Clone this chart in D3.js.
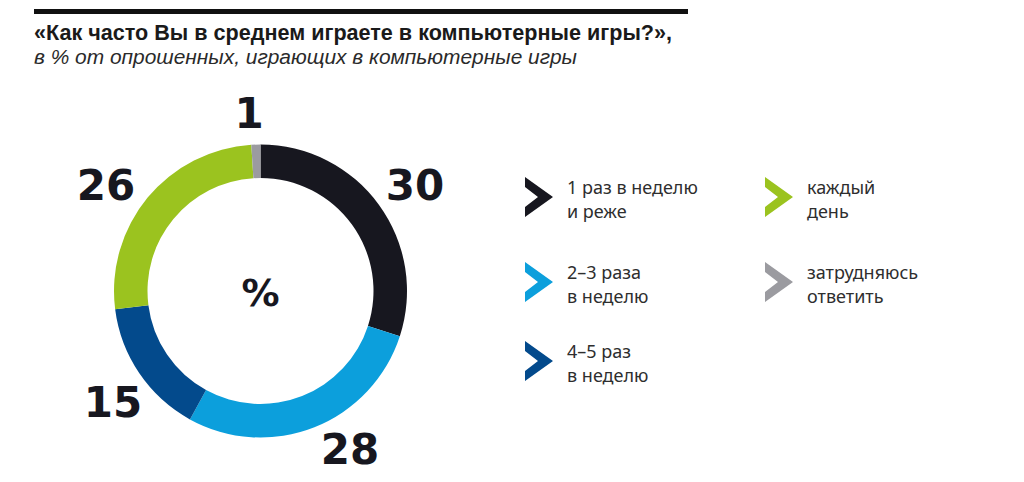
<!DOCTYPE html>
<html>
<head>
<meta charset="utf-8">
<script src="https://cdn.jsdelivr.net/npm/d3@7"></script>
<style>
    body { margin: 0; background: #fff; }
    svg { display: block; }
</style>
</head>
<body>
<svg id="chart" width="1024" height="482"></svg>
<script>
// data
const categories = ["1 раз в неделю и реже", "2–3 раза в неделю", "4–5 раз в неделю", "каждый день", "затрудняюсь ответить"];
const values = [30, 28, 15, 26, 1];
const colors = ["#17171f", "#0c9fdc", "#034a8c", "#9bc31f", "#9b9ba0"];
const legendLines = [
    ["1 раз в неделю", "и реже"],
    ["2–3 раза", "в неделю"],
    ["4–5 раз", "в неделю"],
    ["каждый", "день"],
    ["затрудняюсь", "ответить"]
];
const titleText = "«Как часто Вы в среднем играете в компьютерные игры?»,";
const subtitleText = "в % от опрошенных, играющих в компьютерные игры";

const svg = d3.select("#chart");

// header
svg.append("rect").attr("x", 34).attr("y", 9).attr("width", 654).attr("height", 5).attr("fill", "#111");
svg.append("text")
    .attr("x", 34).attr("y", 40)
    .attr("font-family", "'Liberation Sans Narrow', 'Liberation Sans', sans-serif")
    .attr("font-weight", "bold").attr("font-size", 22)
    .attr("textLength", 638).attr("lengthAdjust", "spacingAndGlyphs")
    .attr("fill", "#1a1a1a")
    .text(titleText);
svg.append("text")
    .attr("x", 34).attr("y", 64)
    .attr("font-family", "'Liberation Sans Narrow', 'Liberation Sans', sans-serif")
    .attr("font-style", "italic").attr("font-size", 20)
    .attr("textLength", 543).attr("lengthAdjust", "spacingAndGlyphs")
    .attr("fill", "#2a2a2a")
    .text(subtitleText);

// donut
const cx = 260.5, cy = 291, outerR = 146.5, innerR = 113;
const pie = d3.pie().sort(null).value(d => d)(values);
const arc = d3.arc().innerRadius(innerR).outerRadius(outerR);
const g = svg.append("g").attr("transform", `translate(${cx},${cy})`);

g.selectAll("path.slice")
    .data(pie)
    .join("path")
    .attr("class", "slice")
    .attr("d", arc)
    .attr("fill", (d, i) => colors[i]);

// value labels (page coords of each label centre)
const labelPos = [[415, 185], [350, 449], [113, 402], [106, 185], [249, 113]];
g.selectAll("text.val")
    .data(pie)
    .join("text")
    .attr("class", "val")
    .attr("x", (d, i) => labelPos[i][0] - cx)
    .attr("y", (d, i) => labelPos[i][1] - cy)
    .attr("text-anchor", "middle")
    .attr("dominant-baseline", "central")
    .attr("font-family", "'DejaVu Sans', sans-serif")
    .attr("font-weight", "bold")
    .attr("font-size", 42)
    .attr("fill", "#17171f")
    .text(d => d.data);

g.append("text")
    .attr("x", 0).attr("y", 2)
    .attr("text-anchor", "middle")
    .attr("dominant-baseline", "central")
    .attr("font-family", "'DejaVu Sans', sans-serif")
    .attr("font-weight", "bold")
    .attr("font-size", 38)
    .attr("fill", "#17171f")
    .text("%");

// legend
const legendPos = [[525, 177], [525, 262], [525, 341], [765, 177], [765, 262]];
const chevron = "M0,0 L28,20 L0,40 L0,30 L13,20 L0,10 Z";
const leg = svg.selectAll("g.leg")
    .data(categories)
    .join("g")
    .attr("class", "leg")
    .attr("transform", (d, i) => `translate(${legendPos[i][0]},${legendPos[i][1]})`);

leg.append("path")
    .attr("d", chevron)
    .attr("fill", (d, i) => colors[i]);

leg.each(function(d, i) {
    let t = d3.select(this).append("text")
        .attr("font-family", "'Noto Sans', sans-serif")
        .attr("font-size", 18)
        .attr("fill", "#2e2e2e");
    legendLines[i].forEach((line, k) => {
        t.append("tspan").attr("x", 42).attr("y", 17 + k * 23.5).text(line);
    });
});
</script>
</body>
</html>
